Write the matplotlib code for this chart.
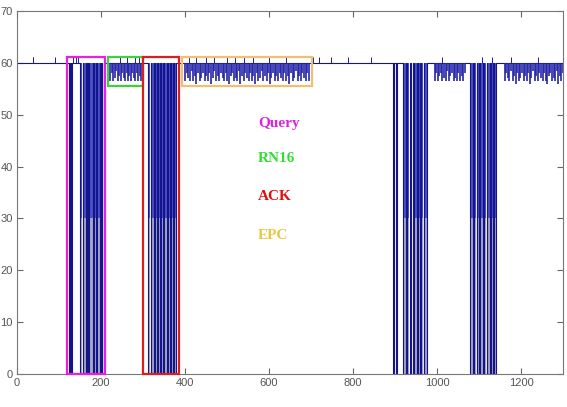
import matplotlib.pyplot as plt
from matplotlib.patches import Rectangle
import numpy as np

# reader commands: pulses where the carrier drops to 0
query1 = [(123, 125), (129, 131), (150, 156), (158, 165), (167, 170), (172, 182),
          (184, 189), (191, 197), (199, 202), (203, 206)]
ack1 = [(311, 318), (320, 326), (328, 333), (335, 340), (342, 348), (350, 358),
        (360, 365), (367, 372), (374, 379)]
query2 = [(896, 898), (902, 905), (918, 926), (928, 935), (937, 942), (944, 952),
          (954, 960), (962, 968), (970, 976)]
ack2 = [(1079, 1086), (1088, 1094), (1096, 1101), (1103, 1110), (1112, 1118),
        (1120, 1126), (1128, 1133), (1135, 1141)]

# tag backscatter: small dips below the 60 level (start, end, depths)
rn16 = (222, 296, [56.5, 58, 56.5, 57, 58.5, 56.5, 57.5, 56.5, 58, 57, 56.5, 58,
                   56.5, 57.5, 56.5, 58, 57, 56.5, 58, 56.5, 57.5, 56.5])
epc = (400, 695, [56.5, 58, 57, 56.5, 58.5, 56.5, 57.5, 56, 58, 56.5, 57, 58, 56.5,
                  57.5, 56.5, 58, 56, 57, 58.5, 56.5, 57.5, 56.5, 58, 57, 56.5, 58,
                  56.5, 56, 57.5, 58, 56.5, 57, 56.5, 58.5, 56, 57.5, 56.5, 58, 57,
                  56.5, 58, 56.5, 57.5, 56, 58, 56.5, 57, 58.5, 56.5, 57.5, 56.5, 58,
                  56, 57, 58, 56.5, 57.5, 56.5, 58, 57, 56.5, 58, 56.5, 57.5, 56, 58,
                  56.5, 57, 58.5, 56.5, 57.5, 56.5, 58, 57, 56.5, 58, 56.5])
tag1 = (994, 1066, [56.5, 58, 56.5, 57.5, 58, 56.5, 57, 56.5, 58.5, 56.5, 57.5, 58,
                    56.5, 57, 56.5, 58, 56.5, 57.5, 56.5, 58])
tag2 = (1161, 1300, [56.5, 58, 57, 56.5, 58.5, 56.5, 57.5, 56, 58, 56.5, 57, 58, 56.5,
                     57.5, 56.5, 58, 56, 57, 58.5, 56.5, 57.5, 56.5, 58, 57, 56.5, 58,
                     56.5, 56, 57.5, 58, 56.5, 57, 56.5, 58.5, 56, 57.5, 56.5, 58])

# small spikes above the carrier level
spikes = [38, 39, 91, 134, 140, 145, 246, 262, 280, 290, 410, 425, 450, 470, 500,
          520, 540, 562, 600, 640, 705, 719, 748, 788, 843, 1012, 1108, 1130, 1175, 1240]
spike_h = 61.2

labels = ['Query', 'RN16', 'ACK', 'EPC']
label_y = [48.4, 41.6, 34.3, 26.8]
label_col = ['#e020e0', '#33dd33', '#dd1111', '#e8c840']

# boxes: x0, x1, y0, y1
boxes = [(119, 210, 0, 61.2, '#e61ee6'), (217, 301, 55.6, 61.2, '#3cd23c'),
         (301, 385, 0, 61.2, '#dc1e1e'), (392, 703, 55.6, 61.2, '#f0c070')]

# reader command step signal
events = []
for burst in (query1, ack1, query2, ack2):
    for a, b in burst:
        events.append((a, b))
events.sort()
t = [0]
y = [60]
for a, b in events:
    t += [a, b]
    y += [0, 60]
t.append(1300)
y.append(60)

fig = plt.figure(figsize=(5.67, 4.07), dpi=100)
ax = fig.add_axes([0.030, 0.081, 0.963, 0.892])

for burst in (query1, ack1, query2, ack2):
    for a, b in burst:
        ax.fill_between([a + 0.6, b - 0.6], 30, 60, color='#4a50c4', lw=0)
        ax.fill_between([a + 0.6, b - 0.6], 0, 30, color='#a6a8c4', lw=0)

ax.plot(t, y, drawstyle='steps-post', color='#14148c', lw=0.8)

# tag responses as thin dips
for x0, x1, depths in (rn16, epc, tag1, tag2):
    pos = np.linspace(x0, x1, len(depths))
    ax.vlines(pos, depths, 60, color='#2424a8', lw=1.2)
ax.vlines(spikes, 60, spike_h, color='#1c1ca0', lw=0.7)

for x0, x1, y0, y1, c in boxes:
    ax.add_patch(Rectangle((x0, y0), x1 - x0, y1 - y0, fill=False, ec=c, lw=1.6,
                           clip_on=False, zorder=5))

for lab, ly, c in zip(labels, label_y, label_col):
    ax.text(574, ly, lab, color=c, fontsize=11, fontweight='bold',
            family='Liberation Serif', va='center', ha='left')

ax.set_xlim(0, 1300)
ax.set_ylim(0, 70)
ax.set_xticks(range(0, 1201, 200))
ax.set_yticks(range(0, 71, 10))
ax.tick_params(direction='in', top=True, right=True, length=4, width=0.8,
               colors='#666666', labelsize=8, labelcolor='#555555', pad=3)
for sp in ax.spines.values():
    sp.set_color('#777777')
    sp.set_linewidth(0.8)
for lab in ax.get_xticklabels() + ax.get_yticklabels():
    lab.set_family('Liberation Sans')

fig.savefig('out.png', dpi=100)
